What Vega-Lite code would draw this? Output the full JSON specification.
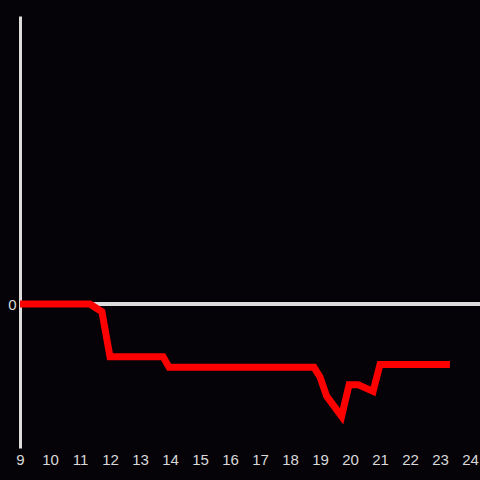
{
  "$schema": "https://vega.github.io/schema/vega-lite/v6.json",
  "width": 460,
  "height": 432,
  "autosize": {"type": "none"},
  "padding": {"left": 20, "top": 16, "right": 0, "bottom": 32},
  "background": "#050308",
  "config": {"view": {"stroke": null}},
  "data": {"values": [
    {"x": 9, "y": 0},
    {"x": 11.33, "y": 0},
    {"x": 11.73, "y": -8},
    {"x": 12.0, "y": -55},
    {"x": 13.77, "y": -55},
    {"x": 13.97, "y": -66},
    {"x": 18.8, "y": -66},
    {"x": 19.0, "y": -76},
    {"x": 19.22, "y": -96},
    {"x": 19.72, "y": -117},
    {"x": 19.97, "y": -84},
    {"x": 20.27, "y": -84},
    {"x": 20.77, "y": -91},
    {"x": 21.0, "y": -63},
    {"x": 23.33, "y": -63}
  ]},
  "layer": [
    {
      "mark": {"type": "rule", "color": "#dddddd", "strokeWidth": 3},
      "encoding": {"y": {"datum": 0, "type": "quantitative"}}
    },
    {
      "mark": {"type": "line", "color": "#ff0000", "strokeWidth": 7, "strokeJoin": "miter", "strokeCap": "butt"},
      "encoding": {
        "x": {"field": "x", "type": "quantitative", "scale": {"domain": [9, 24.333], "nice": false, "zero": false},
          "axis": {"title": null, "values": [9,10,11,12,13,14,15,16,17,18,19,20,21,22,23,24], "domain": false, "ticks": false, "grid": false, "labelColor": "#d9d9d9", "labelFontSize": 15, "labelPadding": 4, "labelFont": "Liberation Sans", "labelFlush": false, "labelOverlap": false}},
        "y": {"field": "y", "type": "quantitative", "scale": {"domain": [-150, 300], "nice": false, "zero": false},
          "axis": {"title": null, "values": [0], "domain": true, "domainColor": "#dddddd", "domainWidth": 3, "ticks": false, "grid": false, "labelColor": "#d9d9d9", "labelFontSize": 15, "labelPadding": 4, "labelFont": "Liberation Sans"}}
      }
    }
  ]
}
